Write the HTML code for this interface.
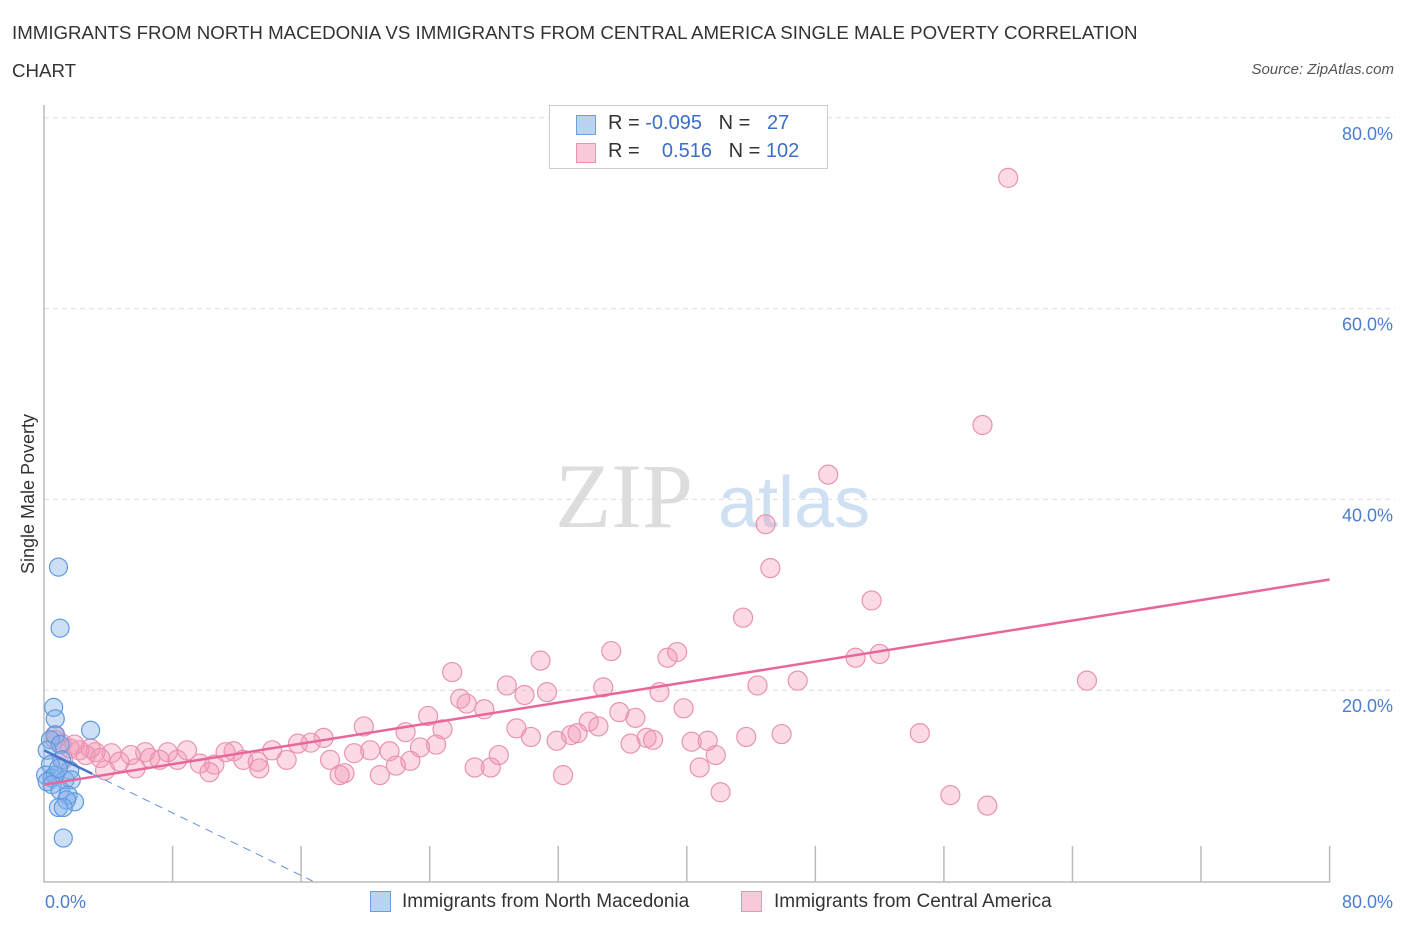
<!DOCTYPE html>
<html><head><meta charset="utf-8"><style>
body{margin:0;background:#fff;font-family:"Liberation Sans",sans-serif}
#wrap{position:relative;width:1406px;height:930px;overflow:hidden}
.t{position:absolute;white-space:nowrap}
</style></head><body>
<div id="wrap">
<div class="t" style="left:12px;top:14px;font-size:18.7px;color:#333;line-height:38px">IMMIGRANTS FROM NORTH MACEDONIA VS IMMIGRANTS FROM CENTRAL AMERICA SINGLE MALE POVERTY CORRELATION<br>CHART</div>
<div class="t" style="right:12px;top:61px;font-size:15px;font-style:italic;color:#555">Source: ZipAtlas.com</div>
<svg id="svg" width="1406" height="930" style="position:absolute;left:0;top:0"></svg>
</div>
<script>
const blueX=[0.9,1.0,0.6,0.7,2.9,0.7,0.4,1.0,0.2,1.1,0.4,1.6,0.1,0.5,0.7,1.3,0.2,0.5,1.7,1.0,1.5,1.9,1.4,0.9,1.2,1.2,0.9];
const blueY=[32.9,26.5,18.2,17.0,15.8,15.3,14.8,14.3,13.7,12.7,12.2,11.6,11.1,10.8,11.1,10.6,10.4,10.1,10.6,9.5,9.0,8.3,8.5,7.7,7.7,4.5,11.8];
const pinkX=[60.0,58.4,48.8,44.9,45.2,51.5,43.5,35.3,38.8,39.4,50.5,52.0,25.4,30.9,28.8,34.8,38.3,44.4,46.9,64.9,25.9,26.3,29.9,31.3,27.4,39.8,23.9,35.8,36.8,19.9,22.5,24.8,29.4,33.9,34.5,33.2,30.3,31.9,37.5,37.9,40.3,41.3,43.7,45.9,54.5,36.5,32.8,17.4,16.6,15.8,24.4,23.4,21.5,20.3,19.3,14.2,11.8,11.3,8.9,7.7,6.3,5.4,4.2,3.2,2.2,1.6,1.1,0.7,0.7,2.6,3.5,4.7,6.6,8.3,9.7,10.6,12.4,13.3,15.1,17.8,18.7,18.4,20.9,21.9,22.8,26.8,27.8,28.3,32.3,40.8,41.8,42.1,56.4,58.7,1.2,1.9,2.9,3.8,5.7,13.4,10.3,7.2];
const pinkY=[73.7,47.8,42.6,37.4,32.8,29.4,27.6,24.1,23.4,24.0,23.4,23.8,21.9,23.1,20.5,20.3,19.8,20.5,21.0,21.0,19.1,18.6,19.5,19.8,18.0,18.1,17.3,17.7,17.1,16.2,15.6,15.9,16.0,16.7,16.2,15.5,15.1,14.7,15.0,14.8,14.6,14.7,15.1,15.4,15.5,14.4,15.3,15.0,14.5,14.4,14.3,14.0,13.6,13.7,13.4,13.7,13.6,13.5,13.7,13.5,13.5,13.2,13.4,13.5,13.7,13.9,14.4,15.3,14.8,13.2,12.9,12.5,12.9,12.7,12.3,12.2,12.7,12.5,12.7,12.7,11.3,11.1,11.1,12.1,12.6,11.9,11.9,13.2,11.1,11.9,13.2,9.3,9.0,7.9,12.7,14.3,13.9,11.6,11.8,11.8,11.4,12.7];
const pinkTrend=[10.1,31.6]; // y at x=0 and x=80
const blueTrend=[13.7,-0.82]; // intercept, slope
const yTicks=[20,40,60,80];
const xTickLabels=["0.0%","80.0%"];
const NS="http://www.w3.org/2000/svg",svg=document.getElementById('svg');
const X=v=>44+v*16.07, Y=v=>881-v*9.54;
function mk(t,a,p){const e=document.createElementNS(NS,t);for(const k in a)e.setAttribute(k,a[k]);(p||svg).appendChild(e);return e;}
yTicks.forEach(t=>{const l=mk('line',{x1:44,x2:1395,y1:Y(t),y2:Y(t),stroke:'#ddd','stroke-dasharray':'5,4'});


const tx=mk('text',{x:1393,y:Y(t)+22,'text-anchor':'end','font-size':18,fill:'#4a7fd0'});tx.textContent=t.toFixed(1)+'%';

});
const ax=mk('path',{d:'M44 105V882H1330',stroke:'#bbb',fill:'none','stroke-width':1.5});


for(let i=1;i<=10;i++){const tk=mk('line',{x1:X(i*8),x2:X(i*8),y1:846,y2:882,stroke:'#bbb','stroke-width':1.5});

}
[[45,'start',0],[1393,'end',1]].forEach(([x,a,i])=>{const t=mk('text',{x:x,y:908,'text-anchor':a,'font-size':18,fill:'#4a7fd0'});t.textContent=xTickLabels[i];

});
const wm=mk('text',{x:555,y:527,'font-size':92,'font-family':'Liberation Serif',fill:'#ddd'});wm.textContent='ZIP';


const wm2=mk('text',{x:718,y:527,'font-size':72,fill:'#cfe0f3'});wm2.textContent='atlas';


const yt=mk('text',{x:0,y:0,'font-size':18,fill:'#333','text-anchor':'middle',transform:'translate(34,494) rotate(-90)'});yt.textContent='Single Male Poverty';


pinkX.forEach((x,i)=>{const c=mk('circle',{cx:X(x),cy:Y(pinkY[i]),r:9.5,fill:'rgba(244,150,180,0.35)',stroke:'#e993b0','stroke-width':1.2});

});
blueX.forEach((x,i)=>{const c=mk('circle',{cx:X(x),cy:Y(blueY[i]),r:9,fill:'rgba(130,175,235,0.4)',stroke:'#5d9ae0','stroke-width':1.2});

});
const pl=mk('line',{x1:X(0),y1:Y(pinkTrend[0]),x2:X(80),y2:Y(pinkTrend[1]),stroke:'#e8679a','stroke-width':2.5});


const bx0=-blueTrend[0]/blueTrend[1];
const bd=mk('line',{x1:X(3),y1:Y(blueTrend[0]+blueTrend[1]*3),x2:X(bx0),y2:Y(0),stroke:'#5d8fe0','stroke-width':1,'stroke-dasharray':'8,6'});


const bl=mk('line',{x1:X(0),y1:Y(blueTrend[0]),x2:X(3),y2:Y(blueTrend[0]+blueTrend[1]*3),stroke:'#4a74cc','stroke-width':2.5});


</script>
<div class="t" style="left:549px;top:105px;width:277px;height:62px;border:1px solid #ccc;background:#fff;font-size:20px;color:#333">
<div style="position:absolute;left:26px;top:9px;width:18px;height:18px;background:#b9d3f5;border:1px solid #6aa0e0"></div>
<div style="position:absolute;left:58px;top:6px">R = <span style="color:#3b6fc9">-0.095</span>&nbsp;&nbsp;&nbsp;N = &nbsp;&nbsp;<span style="color:#3b6fc9">27</span></div>
<div style="position:absolute;left:26px;top:37px;width:18px;height:18px;background:#f8c9d8;border:1px solid #e993b0"></div>
<div style="position:absolute;left:58px;top:34px">R = &nbsp;&nbsp;&nbsp;<span style="color:#3b6fc9">0.516</span>&nbsp;&nbsp;&nbsp;N = <span style="color:#3b6fc9">102</span></div>
</div>
<div style="position:absolute;left:0;top:0">
<div style="position:absolute;left:370px;top:891px;width:19px;height:19px;background:#b9d3f5;border:1px solid #6aa0e0"></div>
<div class="t" style="left:402px;top:891px;font-size:19px;color:#333">Immigrants from North Macedonia</div>
<div style="position:absolute;left:741px;top:891px;width:19px;height:19px;background:#f8c9d8;border:1px solid #e993b0"></div>
<div class="t" style="left:774px;top:891px;font-size:19px;color:#333">Immigrants from Central America</div>
</div>
</body></html>
